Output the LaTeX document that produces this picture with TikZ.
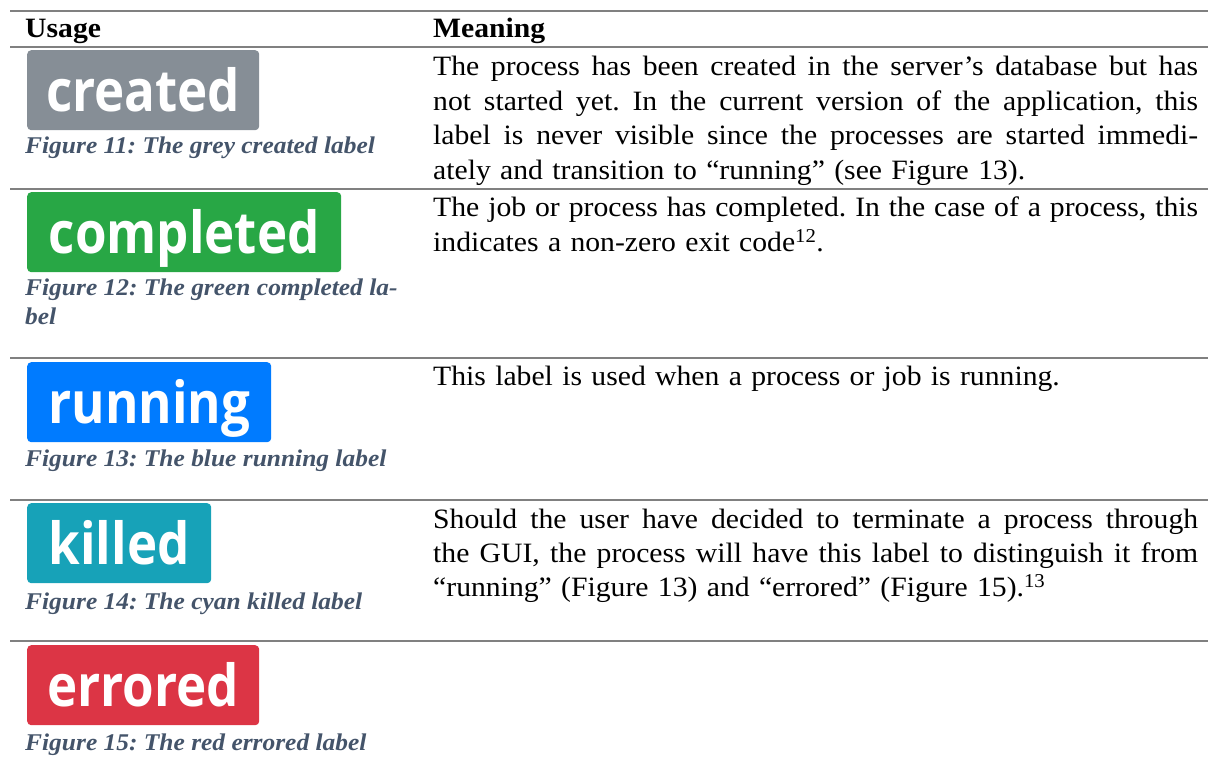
\documentclass[tikz,border=0pt]{standalone}
\usepackage{fontspec}
\setmainfont[FakeStretch=1.06]{Liberation Serif}
\newfontfamily\badgefont[FakeStretch=0.88]{Open Sans}
\setlength{\parindent}{0pt}
\frenchspacing
\definecolor{badgegrey}{HTML}{868E96}
\definecolor{badgegreen}{HTML}{28A745}
\definecolor{badgeblue}{HTML}{007BFF}
\definecolor{badgecyan}{HTML}{17A2B8}
\definecolor{badgered}{HTML}{DC3545}
\definecolor{captionblue}{HTML}{44546A}
\definecolor{rulegrey}{HTML}{808080}
\newcommand{\fullline}[1]{\makebox[765pt][s]{\spaceskip=0pt\xspaceskip=0pt #1}}

\begin{document}
\begin{tikzpicture}[
            x=1pt,y=-1pt,
            badge/.style={rounded corners=4pt,inner sep=0pt,text=white,
                minimum height=80pt,anchor=north west,text height=42pt,text depth=0pt,
                font=\badgefont\bfseries\fontsize{58}{58}\selectfont},
            caption/.style={anchor=base west,inner sep=0pt,text=captionblue,align=left,
                font=\bfseries\itshape\fontsize{24}{29}\selectfont},
            meaning/.style={anchor=base west,inner sep=0pt,text width=765pt,align=left,
                font=\fontsize{28}{34.5}\selectfont},
            header/.style={anchor=base west,inner sep=0pt,
                font=\bfseries\fontsize{28}{34}\selectfont},
            tablerule/.style={draw=rulegrey,line width=1.6pt}
        ]
            \useasboundingbox (0,0) rectangle (1208,775);
            \foreach \y in {11,47,189,358,500,641}
                \draw[tablerule] (10,\y) -- (1208,\y);

            \node[header] (usage) at (25,38) {Usage};
            \node[header] (meaning) at (433,38) {Meaning};

            \node[badge,fill=badgegrey,minimum width=232pt] (created) at (27,50) {created};
            \node[caption] (capcreated) at (25,154) {Figure 11: The grey created label};
            \node[meaning] (desccreated) at (433,76) {%
                \fullline{The process has been created in the server’s database but has}\\
                \fullline{not started yet. In the current version of the application, this}\\
                \fullline{label is never visible since the processes are started immedi-}\\
                ately and transition to “running” (see Figure 13).};

            \node[badge,fill=badgegreen,minimum width=314pt] (completed) at (27,192) {completed};
            % two lines: base is the last one
            \node[caption] (capcompleted) at (25,325) {Figure 12: The green completed la-\\bel};
            \node[meaning] (desccompleted) at (433,217) {%
                \fullline{The job or process has completed. In the case of a process, this}\\
                indicates a non-zero exit code\textsuperscript{12}.};

            \node[badge,fill=badgeblue,minimum width=244pt] (running) at (27,362) {running};
            \node[caption] (caprunning) at (25,467) {Figure 13: The blue running label};
            \node[meaning] (descrunning) at (433,386) {This label is used when a process or job is running.};

            \node[badge,fill=badgecyan,minimum width=184pt] (killed) at (27,503) {killed};
            \node[caption] (capkilled) at (25,609) {Figure 14: The cyan killed label};
            \node[meaning] (desckilled) at (433,528) {%
                \fullline{Should the user have decided to terminate a process through}\\
                \fullline{the GUI, the process will have this label to distinguish it from}\\
                “running” (Figure 13) and “errored” (Figure 15).\textsuperscript{13}};

            \node[badge,fill=badgered,minimum width=232pt] (errored) at (27,645) {errored};
            \node[caption] (caperrored) at (25,750) {Figure 15: The red errored label};
        \end{tikzpicture}
\end{document}
